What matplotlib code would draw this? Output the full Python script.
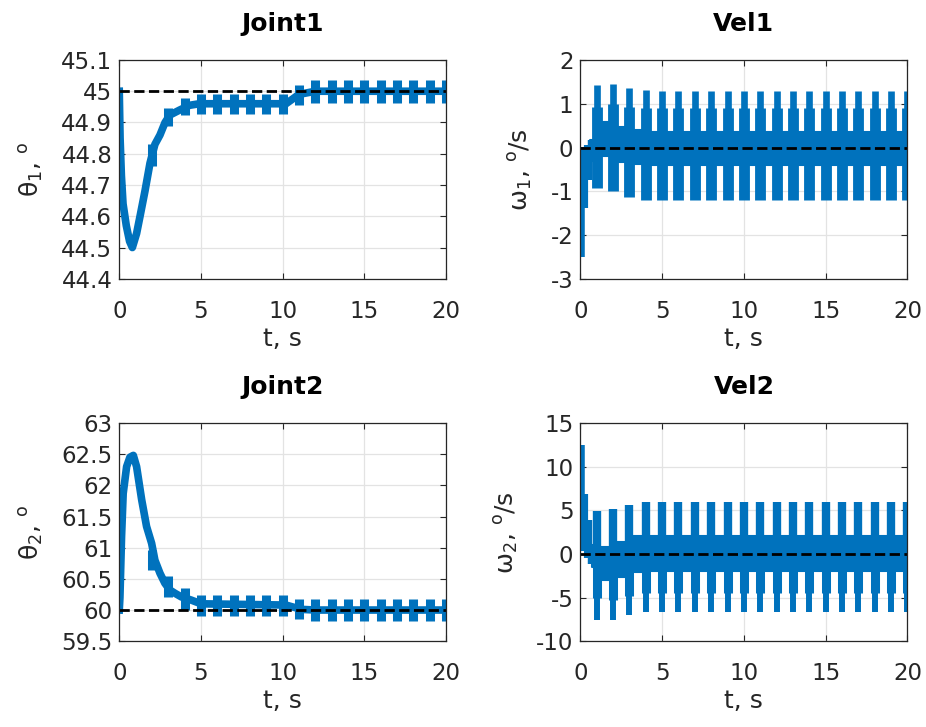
import numpy as np
import matplotlib.pyplot as plt
from matplotlib.ticker import FuncFormatter

# ---------------- data ----------------
# Joint1: slow trend of theta_1 and the blobs that show up every second
j1_t = [0, 0.05, 0.13, 0.23, 0.43, 0.63, 0.8, 1.06, 1.27, 1.57, 1.88, 2.18, 2.49,
        2.8, 3.1, 3.7, 4.3, 4.9, 10.2, 10.6, 11.0, 12.0, 20]
j1_v = [45.0, 44.85, 44.73, 44.64, 44.57, 44.52, 44.5, 44.545, 44.6, 44.68, 44.77,
        44.83, 44.86, 44.9, 44.924, 44.94, 44.955, 44.96, 44.96, 44.975, 44.99,
        45.0, 45.0]
j1_blob_t = [2, 3, 4, 5, 6, 7, 8, 9, 10, 11, 12, 13, 14, 15, 16, 17, 18, 19, 20]
j1_blob_lo = [44.76, 44.89, 44.925, 44.926, 44.926, 44.926, 44.926, 44.926, 44.928,
              44.955, 44.963, 44.963, 44.963, 44.963, 44.963, 44.963, 44.963,
              44.963, 44.963]
j1_blob_hi = [44.83, 44.945, 44.977, 44.99, 44.99, 44.99, 44.99, 44.99, 44.99,
              45.02, 45.035, 45.035, 45.035, 45.035, 45.035, 45.035, 45.035,
              45.035, 45.035]
j1_ref = 45.0

# Joint2
j2_t = [0, 0.04, 0.14, 0.24, 0.45, 0.65, 0.86, 1.06, 1.37, 1.67, 1.98, 2.18, 2.49,
        2.79, 3.1, 3.4, 3.8, 4.4, 5.0, 10.2, 10.6, 11.2, 12, 20]
j2_v = [60.0, 60.2, 61.18, 61.87, 62.3, 62.45, 62.48, 62.3, 61.77, 61.34, 61.07,
        60.8, 60.59, 60.43, 60.32, 60.27, 60.21, 60.16, 60.1, 60.08, 60.05, 60.01,
        60.0, 60.0]
j2_blob_t = [2, 3, 4, 5, 6, 7, 8, 9, 10, 11, 12, 13, 14, 15, 16, 17, 18, 19, 20]
j2_blob_lo = [60.64, 60.21, 60.0, 59.9, 59.9, 59.9, 59.9, 59.9, 59.9, 59.85,
              59.82, 59.82, 59.82, 59.82, 59.82, 59.82, 59.82, 59.82, 59.82]
j2_blob_hi = [60.96, 60.54, 60.35, 60.24, 60.24, 60.24, 60.24, 60.24, 60.24, 60.18,
              60.17, 60.17, 60.17, 60.17, 60.17, 60.17, 60.17, 60.17, 60.17]
j2_ref = 60.0

# Vel1: start-up columns, dense band between spikes, one spike per second
vel1_init_t = [0.1, 0.34, 0.57]
vel1_init_lo = [-2.5, -1.39, -0.74]
vel1_init_hi = [0.02, 0.05, 0.17]
vel1_band_t = [0.6, 1, 2, 3, 4, 20]
vel1_band_hi = [0.17, 0.59, 0.48, 0.4, 0.36, 0.36]
vel1_band_lo = [-0.3, -0.2, -0.32, -0.38, -0.4, -0.4]
vel1_spk_t = [1, 2, 3, 4, 5, 6, 7, 8, 9, 10, 11, 12, 13, 14, 15, 16, 17, 18, 19, 20]
vel1_top = [1.42, 1.46, 1.37, 1.31, 1.3, 1.3, 1.3, 1.3, 1.3, 1.3, 1.3, 1.3, 1.3,
            1.3, 1.3, 1.3, 1.3, 1.3, 1.3, 1.3]
vel1_mid = [0.93, 1.0, 0.92, 0.9, 0.9, 0.9, 0.9, 0.9, 0.9, 0.9, 0.9, 0.9, 0.9,
            0.9, 0.9, 0.9, 0.9, 0.9, 0.9, 0.9]
vel1_bot = [-0.92, -1.0, -1.12, -1.2, -1.2, -1.2, -1.2, -1.2, -1.2, -1.2, -1.2,
            -1.2, -1.2, -1.2, -1.2, -1.2, -1.2, -1.2, -1.2, -1.2]

# Vel2
vel2_init_t = [0.12, 0.37, 0.58]
vel2_init_lo = [0.3, -0.5, -1.1]
vel2_init_hi = [12.5, 6.9, 3.9]
vel2_band_t = [0.7, 1, 2, 3, 4, 20]
vel2_band_hi = [1.0, 0.8, 1.4, 2.0, 2.1, 2.1]
vel2_band_lo = [-1.5, -3.0, -2.6, -2.1, -2.0, -2.0]
vel2_spk_t = [1, 2, 3, 4, 5, 6, 7, 8, 9, 10, 11, 12, 13, 14, 15, 16, 17, 18, 19, 20]
vel2_top = [4.9, 5.1, 5.6, 6.0, 6.0, 6.0, 6.0, 6.0, 6.0, 6.0, 6.0, 6.0, 6.0, 6.0,
            6.0, 6.0, 6.0, 6.0, 6.0, 6.0]
vel2_mid = [-5.1, -5.3, -4.8, -4.5, -4.5, -4.5, -4.5, -4.5, -4.5, -4.5, -4.5, -4.5,
            -4.5, -4.5, -4.5, -4.5, -4.5, -4.5, -4.5, -4.5]
vel2_bot = [-7.6, -7.6, -7.05, -6.7, -6.7, -6.7, -6.7, -6.7, -6.7, -6.7, -6.7,
            -6.7, -6.7, -6.7, -6.7, -6.7, -6.7, -6.7, -6.7, -6.7]

t_ref = [0, 20]

BLUE = '#0072BD'
EDGE = '#262626'

plt.rcParams['font.family'] = ['DejaVu Sans']
plt.rcParams['mathtext.fontset'] = 'dejavusans'
plt.rcParams['axes.unicode_minus'] = False

fig = plt.figure(figsize=(9.26, 7.27), dpi=100)


def style(ax, title, ylabel, ylim, yticks):
    ax.set_xlim(0, 20)
    ax.set_ylim(*ylim)
    ax.set_xticks([0, 5, 10, 15, 20])
    ax.set_yticks(yticks)
    ax.yaxis.set_major_formatter(FuncFormatter(lambda v, p: '%g' % v))
    ax.grid(True, color='#e3e3e3', lw=0.9)
    ax.set_axisbelow(True)
    for s in ax.spines.values():
        s.set_color(EDGE)
        s.set_linewidth(0.9)
    ax.tick_params(direction='in', length=4, width=0.8, color=EDGE,
                   top=True, right=True, labelsize=16.5, labelcolor=EDGE)
    ax.tick_params(axis='x', pad=15)
    ax.tick_params(axis='y', pad=5)
    ax.set_title(title, fontsize=18, fontweight='bold', pad=21)
    ax.set_xlabel('t, s', fontsize=18, labelpad=3, color=EDGE)
    ax.set_ylabel(ylabel, fontsize=18, labelpad=11, color=EDGE)


def joint(ax, t, v, bt, lo, hi, ref):
    ax.plot(t, v, color=BLUE, lw=5.5)
    ax.vlines(bt, lo, hi, colors=BLUE, linewidths=6.5, capstyle='butt')
    ax.plot(t_ref, [ref, ref], 'k--', lw=2)


def vel_base(ax, it, ilo, ihi, bt, bhi, blo):
    ax.vlines(it, ilo, ihi, colors=BLUE, linewidths=[4.0, 3.0, 3.2], capstyle='butt')
    ax.fill_between(bt, blo, bhi, step='post', color=BLUE, lw=1.5)


# Joint1
ax1 = fig.add_axes([0.1288, 0.6165, 0.3530, 0.3010])
joint(ax1, j1_t, j1_v, j1_blob_t, j1_blob_lo, j1_blob_hi, j1_ref)
style(ax1, 'Joint1', r'θ$_1$, $^{\rm o}$', (44.4, 45.1),
      np.round(np.arange(44.4, 45.11, 0.1), 1))

# Vel1
ax2 = fig.add_axes([0.6267, 0.6165, 0.3533, 0.3010])
vel_base(ax2, vel1_init_t, vel1_init_lo, vel1_init_hi, vel1_band_t, vel1_band_hi,
         vel1_band_lo)
ax2.vlines(vel1_spk_t, 0, vel1_top, colors=BLUE, linewidths=4.8, capstyle='butt')
ax2.vlines(vel1_spk_t, 0, vel1_mid, colors=BLUE, linewidths=7.8, capstyle='butt')
ax2.vlines(vel1_spk_t, vel1_bot, 0, colors=BLUE, linewidths=7.8, capstyle='butt')
ax2.plot(t_ref, [0, 0], 'k--', lw=2)
style(ax2, 'Vel1', r'ω$_1$, $^{\rm o}$/s', (-3, 2), np.arange(-3, 3))

# Joint2
ax3 = fig.add_axes([0.1288, 0.1180, 0.3530, 0.3002])
joint(ax3, j2_t, j2_v, j2_blob_t, j2_blob_lo, j2_blob_hi, j2_ref)
style(ax3, 'Joint2', r'θ$_2$, $^{\rm o}$', (59.5, 63), np.arange(59.5, 63.01, 0.5))

# Vel2
ax4 = fig.add_axes([0.6267, 0.1180, 0.3533, 0.3002])
vel_base(ax4, vel2_init_t, vel2_init_lo, vel2_init_hi, vel2_band_t, vel2_band_hi,
         vel2_band_lo)
ax4.vlines(vel2_spk_t, 0, vel2_top, colors=BLUE, linewidths=6.0, capstyle='butt')
ax4.vlines(vel2_spk_t, vel2_mid, 0, colors=BLUE, linewidths=6.5, capstyle='butt')
ax4.vlines(vel2_spk_t, vel2_bot, 0, colors=BLUE, linewidths=4.3, capstyle='butt')
ax4.plot(t_ref, [0, 0], 'k--', lw=2)
style(ax4, 'Vel2', r'ω$_2$, $^{\rm o}$/s', (-10, 15), np.arange(-10, 16, 5))

fig.savefig('out.png', dpi=100, facecolor='white')
